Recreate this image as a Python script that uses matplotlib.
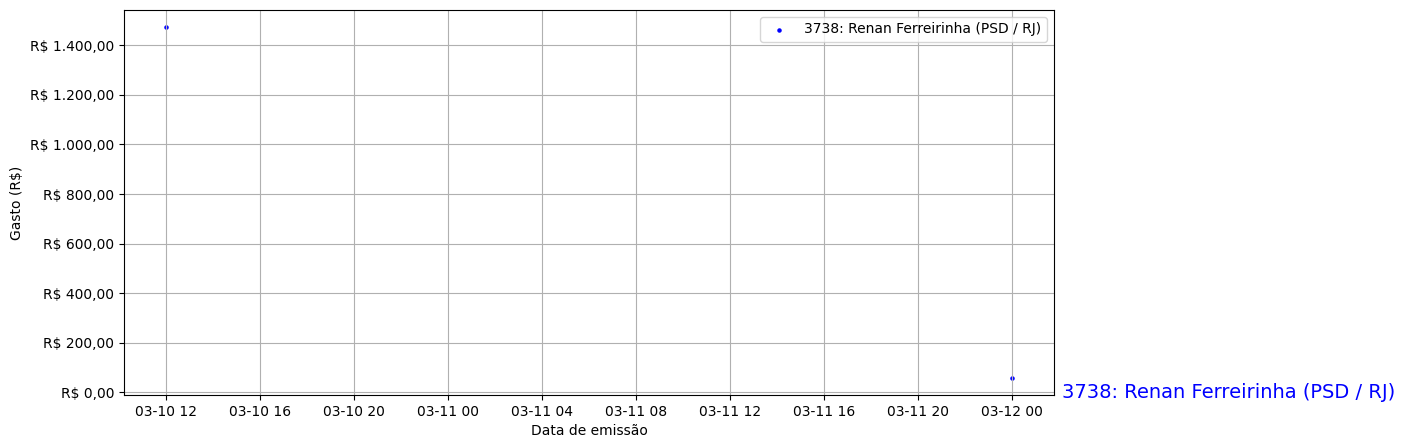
import matplotlib
matplotlib.use("Agg")
import matplotlib.pyplot as plt
import matplotlib.dates as mdates
from matplotlib.ticker import FuncFormatter
import pandas as pd

dates = ["2024-03-10 12:00", "2024-03-12 00:00"]
values = [1472.0, 60.0]
label = "3738: Renan Ferreirinha (PSD / RJ)"

def brl(v, pos=None):
    s = f"{v:,.2f}"
    s = s.replace(",", "X").replace(".", ",").replace("X", ".")
    return f"R$ {s}"

fig = plt.figure(figsize=(14.05, 4.48), dpi=100)
ax = fig.add_axes([124/1405, 1 - 395/448, (1054-124)/1405, (395-10)/448])
x = pd.to_datetime(dates)
ax.scatter(x, values, s=5, color="blue", label=label)
ax.yaxis.set_major_formatter(FuncFormatter(brl))
ax.xaxis.set_major_locator(mdates.HourLocator(byhour=[0, 4, 8, 12, 16, 20]))
ax.xaxis.set_major_formatter(mdates.DateFormatter("%m-%d %H"))
ax.set_xlabel("Data de emissão")
ax.set_ylabel("Gasto (R$)")
ax.grid(True)
ax.legend(loc="upper right")
fig.text(1062/1405, 1 - 392/448, label, color="blue", fontsize=14, va="center", ha="left")
fig.savefig("out.png", dpi=100)
